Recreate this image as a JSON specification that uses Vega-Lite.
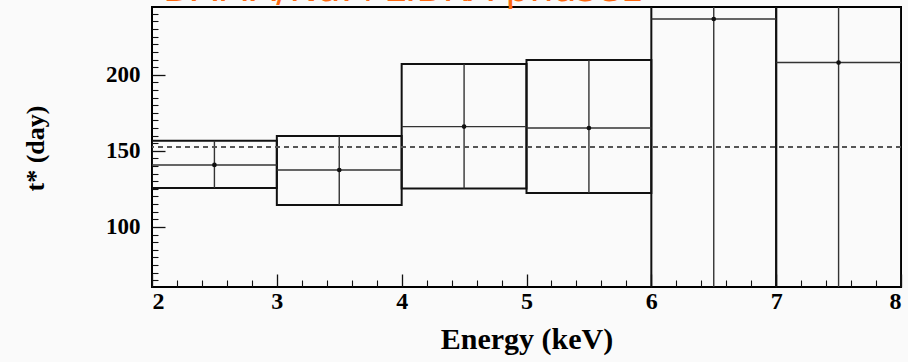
{
  "$schema": "https://vega.github.io/schema/vega-lite/v6.json",
  "width": 749,
  "height": 280,
  "autosize": {"type": "none"},
  "padding": {"left": 152, "top": 7, "right": 7, "bottom": 75},
  "background": "#fafafa",
  "title": {
    "text": "DAMA/NaI+LIBRA phase1",
    "anchor": "start",
    "frame": "group",
    "color": "#ff6a10",
    "font": "DejaVu Sans",
    "fontWeight": "normal",
    "fontSize": 38,
    "dx": 11,
    "dy": 2,
    "offset": 0
  },
  "config": {
    "view": {"stroke": "#000", "strokeWidth": 2},
    "axis": {"grid": false, "domain": false, "tickColor": "#111", "labelColor": "#000", "titleColor": "#000", "labelFont": "Liberation Serif", "titleFont": "Liberation Serif", "labelFontWeight": "bold", "titleFontWeight": "bold"}
  },
  "datasets": {
    "bins": [
      {"lo": 2, "hi": 3, "mid": 2.5, "t": 140.7, "tlo": 125.5, "thi": 156.6},
      {"lo": 3, "hi": 4, "mid": 3.5, "t": 137.4, "tlo": 114.4, "thi": 159.7},
      {"lo": 4, "hi": 5, "mid": 4.5, "t": 165.9, "tlo": 125.3, "thi": 207.0},
      {"lo": 5, "hi": 6, "mid": 5.5, "t": 165.0, "tlo": 122.3, "thi": 209.6},
      {"lo": 6, "hi": 7, "mid": 6.5, "t": 236.6, "tlo": 40, "thi": 300},
      {"lo": 7, "hi": 8, "mid": 7.5, "t": 208.0, "tlo": 40, "thi": 300}
    ]
  },
  "resolve": {"axis": {"x": "independent", "y": "independent"}},
  "layer": [
    {
      "data": {"name": "bins"},
      "layer": [
        {
          "mark": {"type": "rect", "filled": false, "stroke": "#111", "strokeWidth": 2, "clip": true},
          "encoding": {
            "x": {"field": "lo", "type": "quantitative", "scale": {"domain": [2, 8], "nice": false, "zero": false},
              "axis": {"orient": "bottom", "values": [2, 3, 4, 5, 6, 7, 8], "format": "d", "tickSize": -13, "tickWidth": 1.3, "labelPadding": 15, "labelFontSize": 24, "title": "Energy (keV)", "titleFontSize": 30, "titlePadding": 11}},
            "x2": {"field": "hi"},
            "y": {"field": "tlo", "type": "quantitative", "scale": {"domain": [60.5, 244.5], "nice": false, "zero": false},
              "axis": {"orient": "left", "values": [100, 150, 200], "format": "d", "tickSize": -13, "tickWidth": 1.3, "labelPadding": 25, "labelFontSize": 23, "title": "t* (day)", "titleFontSize": 26, "titleX": -117, "titleY": 141, "titleBaseline": "middle", "titleAngle": 270}},
            "y2": {"field": "thi"}
          }
        },
        {
          "mark": {"type": "rule", "stroke": "#333", "strokeWidth": 1.4, "clip": true},
          "encoding": {
            "x": {"field": "lo", "type": "quantitative"},
            "x2": {"field": "hi"},
            "y": {"field": "t", "type": "quantitative"}
          }
        },
        {
          "mark": {"type": "rule", "stroke": "#333", "strokeWidth": 1.4, "clip": true},
          "encoding": {
            "x": {"field": "mid", "type": "quantitative"},
            "y": {"field": "tlo", "type": "quantitative"},
            "y2": {"field": "thi"}
          }
        },
        {
          "mark": {"type": "point", "shape": "circle", "filled": true, "color": "#111", "size": 22, "opacity": 1},
          "encoding": {
            "x": {"field": "mid", "type": "quantitative"},
            "y": {"field": "t", "type": "quantitative"}
          }
        },
        {
          "mark": {"type": "rule", "stroke": "#555", "strokeWidth": 1.1, "strokeDash": [5, 4]},
          "encoding": {"y": {"datum": 152.5}}
        }
      ]
    },
    {
      "data": {"name": "bins"},
      "mark": {"type": "point", "opacity": 0},
      "encoding": {
        "x": {"field": "mid", "type": "quantitative",
          "axis": {"orient": "bottom", "values": [2.2, 2.4, 2.6, 2.8, 3.2, 3.4, 3.6, 3.8, 4.2, 4.4, 4.6, 4.8, 5.2, 5.4, 5.6, 5.8, 6.2, 6.4, 6.6, 6.8, 7.2, 7.4, 7.6, 7.8], "tickSize": -7, "tickWidth": 1.1, "labels": false, "title": null}},
        "y": {"field": "t", "type": "quantitative",
          "axis": {"orient": "left", "values": [65, 70, 75, 80, 85, 90, 95, 105, 110, 115, 120, 125, 130, 135, 140, 145, 155, 160, 165, 170, 175, 180, 185, 190, 195, 205, 210, 215, 220, 225, 230, 235, 240], "tickSize": -6, "tickWidth": 1.1, "labels": false, "title": null}}
      }
    }
  ]
}
